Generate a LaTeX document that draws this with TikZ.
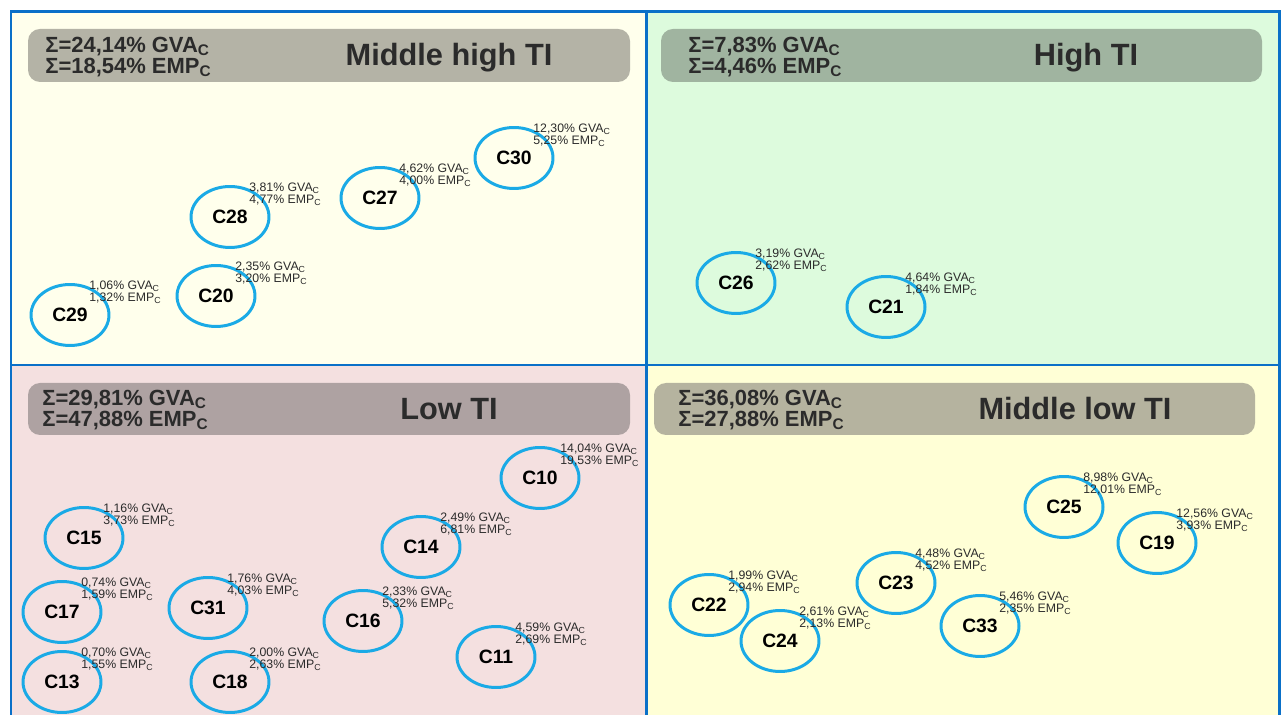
\documentclass[tikz,border=0pt]{standalone}
\usepackage{fontspec}
\setmainfont{Liberation Sans}
\usetikzlibrary{shapes.geometric}

\definecolor{frameblue}{HTML}{0A70C8}
\definecolor{ringblue}{HTML}{1AAAE6}
\definecolor{mhpanel}{HTML}{FFFFEC}
\definecolor{hipanel}{HTML}{DDFBDD}
\definecolor{lopanel}{HTML}{F4E0E0}
\definecolor{mlpanel}{HTML}{FFFFD6}
\definecolor{mhhead}{HTML}{B4B3A6}
\definecolor{hihead}{HTML}{A0B4A0}
\definecolor{lohead}{HTML}{AEA2A2}
\definecolor{mlhead}{HTML}{B5B39F}
\definecolor{darktext}{HTML}{2B2B2B}

\begin{document}
\begin{tikzpicture}[x=0.02cm, y=-0.02cm,
  clus/.style={ellipse, draw=ringblue, line width=1.7pt, minimum width=1.56cm,
    minimum height=1.22cm, inner sep=0pt, font=\fontsize{11}{12}\selectfont\bfseries},
  lbl/.style={anchor=north west, inner sep=0pt, align=left, text=darktext,
    font=\fontsize{7}{6.8}\selectfont},
  sums/.style={anchor=west, inner sep=0pt, align=left, text=darktext,
    font=\fontsize{12.5}{11.9}\selectfont\bfseries},
  ttl/.style={anchor=base, inner sep=0pt, text=darktext, font=\fontsize{17.5}{20}\selectfont\bfseries}]
\useasboundingbox (0,0) rectangle (1281,715);
\fill[white] (0,0) rectangle (1281,715);

% quadrants
\fill[mhpanel] (11,12) rectangle (646,365);
\fill[hipanel] (646,12) rectangle (1279,365);
\fill[lopanel] (11,365) rectangle (646,720);
\fill[mlpanel] (646,365) rectangle (1279,720);
\draw[frameblue, line width=1.7pt] (11,720) -- (11,12) -- (1279,12) -- (1279,720);
\draw[frameblue, line width=1.7pt] (646,12) -- (646,720);
\draw[frameblue, line width=1.7pt] (11,365) -- (1279,365);

% header bars
\fill[mhhead, rounded corners=0.24cm] (28,29) rectangle (630,82);
\fill[hihead, rounded corners=0.24cm] (661,29) rectangle (1262,82);
\fill[lohead, rounded corners=0.24cm] (28,383) rectangle (630,435);
\fill[mlhead, rounded corners=0.24cm] (654,383) rectangle (1255,435);

\node[sums] (summh) at (45,57) {Σ=24,14\% GVA\textsubscript{C}\\Σ=18,54\% EMP\textsubscript{C}};
\node[ttl] (ttlmh) at (449,66) {Middle high TI};
\node[sums] (sumhi) at (688,57) {Σ=7,83\% GVA\textsubscript{C}\\Σ=4,46\% EMP\textsubscript{C}};
\node[ttl] (ttlhi) at (1086,66) {High TI};
\node[sums] (sumlo) at (42,410) {Σ=29,81\% GVA\textsubscript{C}\\Σ=47,88\% EMP\textsubscript{C}};
\node[ttl] (ttllo) at (449,420) {Low TI};
\node[sums] (summl) at (678,410) {Σ=36,08\% GVA\textsubscript{C}\\Σ=27,88\% EMP\textsubscript{C}};
\node[ttl] (ttlml) at (1075,420) {Middle low TI};

% middle high TI
\node[clus] (c30) at (514,158) {C30};
\node[lbl] (l30) at ([shift={(19,-34)}]c30.center) {12,30\% GVA\textsubscript{C}\\5,25\% EMP\textsubscript{C}};
\node[clus] (c27) at (380,198) {C27};
\node[lbl] (l27) at ([shift={(19,-34)}]c27.center) {4,62\% GVA\textsubscript{C}\\4,00\% EMP\textsubscript{C}};
\node[clus] (c28) at (230,217) {C28};
\node[lbl] (l28) at ([shift={(19,-34)}]c28.center) {3,81\% GVA\textsubscript{C}\\4,77\% EMP\textsubscript{C}};
\node[clus] (c20) at (216,296) {C20};
\node[lbl] (l20) at ([shift={(19,-34)}]c20.center) {2,35\% GVA\textsubscript{C}\\3,20\% EMP\textsubscript{C}};
\node[clus] (c29) at (70,315) {C29};
\node[lbl] (l29) at ([shift={(19,-34)}]c29.center) {1,06\% GVA\textsubscript{C}\\1,32\% EMP\textsubscript{C}};

% high TI
\node[clus] (c26) at (736,283) {C26};
\node[lbl] (l26) at ([shift={(19,-34)}]c26.center) {3,19\% GVA\textsubscript{C}\\2,62\% EMP\textsubscript{C}};
\node[clus] (c21) at (886,307) {C21};
\node[lbl] (l21) at ([shift={(19,-34)}]c21.center) {4,64\% GVA\textsubscript{C}\\1,84\% EMP\textsubscript{C}};

% low TI
\node[clus] (c10) at (540,478) {C10};
\node[lbl] (l10) at ([shift={(20,-34)}]c10.center) {14,04\% GVA\textsubscript{C}\\19,53\% EMP\textsubscript{C}};
\node[clus] (c15) at (84,538) {C15};
\node[lbl] (l15) at ([shift={(19,-34)}]c15.center) {1,16\% GVA\textsubscript{C}\\3,73\% EMP\textsubscript{C}};
\node[clus] (c14) at (421,547) {C14};
\node[lbl] (l14) at ([shift={(19,-34)}]c14.center) {2,49\% GVA\textsubscript{C}\\6,81\% EMP\textsubscript{C}};
\node[clus] (c17) at (62,612) {C17};
\node[lbl] (l17) at ([shift={(19,-34)}]c17.center) {0,74\% GVA\textsubscript{C}\\1,59\% EMP\textsubscript{C}};
\node[clus] (c31) at (208,608) {C31};
\node[lbl] (l31) at ([shift={(19,-34)}]c31.center) {1,76\% GVA\textsubscript{C}\\4,03\% EMP\textsubscript{C}};
\node[clus] (c16) at (363,621) {C16};
\node[lbl] (l16) at ([shift={(19,-34)}]c16.center) {2,33\% GVA\textsubscript{C}\\5,32\% EMP\textsubscript{C}};
\node[clus] (c11) at (496,657) {C11};
\node[lbl] (l11) at ([shift={(19,-34)}]c11.center) {4,59\% GVA\textsubscript{C}\\2,69\% EMP\textsubscript{C}};
\node[clus] (c13) at (62,682) {C13};
\node[lbl] (l13) at ([shift={(19,-34)}]c13.center) {0,70\% GVA\textsubscript{C}\\1,55\% EMP\textsubscript{C}};
\node[clus] (c18) at (230,682) {C18};
\node[lbl] (l18) at ([shift={(19,-34)}]c18.center) {2,00\% GVA\textsubscript{C}\\2,63\% EMP\textsubscript{C}};

% middle low TI
\node[clus] (c25) at (1064,507) {C25};
\node[lbl] (l25) at ([shift={(19,-34)}]c25.center) {8,98\% GVA\textsubscript{C}\\12,01\% EMP\textsubscript{C}};
\node[clus] (c19) at (1157,543) {C19};
\node[lbl] (l19) at ([shift={(19,-34)}]c19.center) {12,56\% GVA\textsubscript{C}\\3,93\% EMP\textsubscript{C}};
\node[clus] (c23) at (896,583) {C23};
\node[lbl] (l23) at ([shift={(19,-34)}]c23.center) {4,48\% GVA\textsubscript{C}\\4,52\% EMP\textsubscript{C}};
\node[clus] (c22) at (709,605) {C22};
\node[lbl] (l22) at ([shift={(19,-34)}]c22.center) {1,99\% GVA\textsubscript{C}\\2,94\% EMP\textsubscript{C}};
\node[clus] (c33) at (980,626) {C33};
\node[lbl] (l33) at ([shift={(19,-34)}]c33.center) {5,46\% GVA\textsubscript{C}\\2,35\% EMP\textsubscript{C}};
\node[clus] (c24) at (780,641) {C24};
\node[lbl] (l24) at ([shift={(19,-34)}]c24.center) {2,61\% GVA\textsubscript{C}\\2,13\% EMP\textsubscript{C}};
\end{tikzpicture}
\end{document}
